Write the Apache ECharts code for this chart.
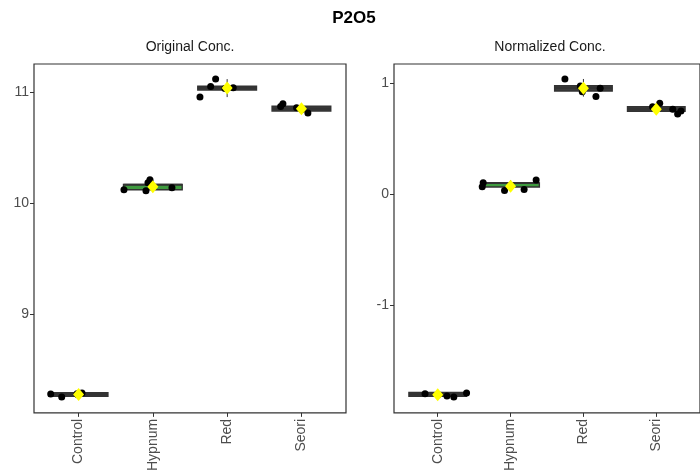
<!DOCTYPE html>
<html>
<head>
<meta charset="utf-8">
<script src="https://cdn.jsdelivr.net/npm/echarts@6/dist/echarts.min.js"></script>
<style>
  html, body { margin: 0; padding: 0; background: #fff; }
  #chart { width: 700px; height: 474px; }
</style>
</head>
<body>
<div id="chart"></div>
<script>
// groups along the x axis (positions 1..4)
const categories = ["Control", "Hypnum", "Red", "Seori"];

// box stats per group: [min, q1, median, q3, max]
const origStats = [
  [8.252, 8.258, 8.276, 8.290, 8.290],
  [10.108, 10.117, 10.162, 10.165, 10.207],
  [10.952, 11.015, 11.035, 11.050, 11.114],
  [10.808, 10.826, 10.848, 10.870, 10.892],
];
const origMeans = [8.274, 10.144, 11.033, 10.847];
// jittered points: [x position, value]
const origPoints = [
  [0.625, 8.279], [0.773, 8.252], [0.980, 8.281], [1.046, 8.288], [0.990, 8.272],
  [1.611, 10.117], [1.907, 10.108], [1.934, 10.180], [1.961, 10.207], [2.257, 10.135],
  [2.634, 10.952], [2.778, 11.048], [2.845, 11.114], [3.082, 11.036], [2.970, 11.030],
  [3.720, 10.868], [3.751, 10.892], [3.935, 10.856], [4.087, 10.808], [4.007, 10.840],
];

const normStats = [
  [-1.830, -1.824, -1.806, -1.788, -1.795],
  [0.030, 0.063, 0.098, 0.100, 0.125],
  [0.877, 0.928, 0.955, 0.975, 1.036],
  [0.720, 0.745, 0.766, 0.786, 0.817],
];
const normMeans = [-1.810, 0.070, 0.952, 0.763];
const normPoints = [
  [0.826, -1.800], [1.127, -1.820], [1.221, -1.830], [1.396, -1.795], [1.005, -1.810],
  [1.624, 0.100], [1.611, 0.065], [1.917, 0.030], [2.186, 0.040], [2.351, 0.125],
  [2.746, 1.036], [2.958, 0.973], [2.984, 0.922], [3.172, 0.877], [3.230, 0.952],
  [3.949, 0.786], [4.047, 0.817], [4.226, 0.763], [4.293, 0.720], [4.339, 0.748],
];

const origTicks = [9, 10, 11];
const normTicks = [-1, 0, 1];

const boxFills = ["#3a3a3a", "#3f9b3f", "#3a3a3a", "#3a3a3a"];
const ink = "#333333";
const labelColor = "#4d4d4d";
const fontFamily = "'Liberation Sans', Arial, sans-serif";

function boxData(stats) {
  return stats.map((s, i) => [i + 1].concat(s));
}

function renderBox(params, api) {
  const x = api.value(0);
  const half = 0.395;
  const lo = api.coord([x, api.value(1)]);
  const hi = api.coord([x, api.value(5)]);
  const tl = api.coord([x - half, api.value(4)]);
  const br = api.coord([x + half, api.value(2)]);
  const medL = api.coord([x - half, api.value(3)]);
  const medR = api.coord([x + half, api.value(3)]);
  return {
    type: "group",
    children: [
      {
        type: "line",
        shape: { x1: lo[0], y1: lo[1], x2: hi[0], y2: hi[1] },
        style: { stroke: ink, lineWidth: 1 },
      },
      {
        type: "rect",
        shape: { x: tl[0], y: tl[1], width: br[0] - tl[0], height: br[1] - tl[1] },
        style: { fill: boxFills[params.dataIndex], stroke: ink, lineWidth: 1.4 },
      },
      {
        type: "line",
        shape: { x1: medL[0], y1: medL[1], x2: medR[0], y2: medR[1] },
        style: { stroke: ink, lineWidth: 2 },
      },
    ],
  };
}

function xAxisFor(gridIndex) {
  return {
    type: "value",
    gridIndex: gridIndex,
    min: 0.4,
    max: 4.6,
    splitLine: { show: false },
    axisLine: { show: false, onZero: false },
    axisTick: { show: true, length: 4, customValues: [1, 2, 3, 4], lineStyle: { color: ink } },
    axisLabel: {
      customValues: [1, 2, 3, 4],
      rotate: 90,
      margin: 6,
      color: labelColor,
      fontSize: 14,
      fontFamily: fontFamily,
      formatter: (v) => categories[Math.round(v) - 1] || "",
    },
  };
}

function yAxisFor(gridIndex, min, max, ticks) {
  return {
    type: "value",
    gridIndex: gridIndex,
    min: min,
    max: max,
    splitLine: { show: false },
    axisLine: { show: false, onZero: false },
    axisTick: { show: true, length: 4, customValues: ticks, lineStyle: { color: ink } },
    axisLabel: {
      customValues: ticks,
      margin: 5,
      color: labelColor,
      fontSize: 14,
      fontFamily: fontFamily,
    },
  };
}

function seriesFor(idx, stats, means, points) {
  return [
    {
      type: "custom",
      xAxisIndex: idx,
      yAxisIndex: idx,
      renderItem: renderBox,
      encode: { x: 0, y: [1, 2, 3, 4, 5] },
      data: boxData(stats),
      z: 2,
      silent: true,
    },
    {
      type: "scatter",
      xAxisIndex: idx,
      yAxisIndex: idx,
      data: points,
      symbol: "circle",
      symbolSize: 7,
      itemStyle: { color: "#000", opacity: 1 },
      z: 3,
      silent: true,
    },
    {
      type: "scatter",
      xAxisIndex: idx,
      yAxisIndex: idx,
      data: means.map((m, i) => [i + 1, m]),
      symbol: "diamond",
      symbolSize: [11, 13],
      itemStyle: { color: "#ffff00", opacity: 1 },
      z: 4,
      silent: true,
    },
  ];
}

const chart = echarts.init(document.getElementById("chart"), null, { renderer: "canvas" });

chart.setOption({
  animation: false,
  backgroundColor: "#fff",
  grid: [
    { left: 34, top: 64, width: 312, height: 349, show: true, borderColor: ink, borderWidth: 1.2, backgroundColor: "#fff" },
    { left: 394, top: 64, width: 312, height: 349, show: true, borderColor: ink, borderWidth: 1.2, backgroundColor: "#fff" },
  ],
  xAxis: [xAxisFor(0), xAxisFor(1)],
  yAxis: [
    yAxisFor(0, 8.108, 11.25, origTicks),
    yAxisFor(1, -1.973, 1.171, normTicks),
  ],
  graphic: [
    {
      type: "text", x: 354, y: 18,
      style: { text: "P2O5", fill: "#000", font: "bold 17px " + fontFamily, textAlign: "center", textVerticalAlign: "middle" },
    },
    {
      type: "text", x: 190, y: 47,
      style: { text: "Original Conc.", fill: "#1a1a1a", font: "14px " + fontFamily, textAlign: "center", textVerticalAlign: "middle" },
    },
    {
      type: "text", x: 550, y: 47,
      style: { text: "Normalized Conc.", fill: "#1a1a1a", font: "14px " + fontFamily, textAlign: "center", textVerticalAlign: "middle" },
    },
  ],
  series: seriesFor(0, origStats, origMeans, origPoints).concat(
    seriesFor(1, normStats, normMeans, normPoints)
  ),
});

window.addEventListener("resize", () => chart.resize());
</script>
</body>
</html>
